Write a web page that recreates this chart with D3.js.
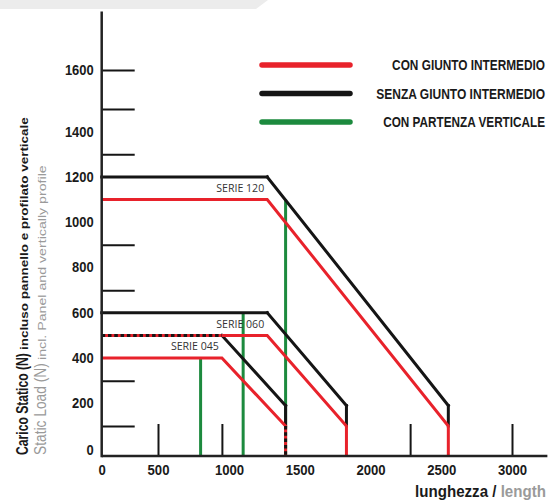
<!DOCTYPE html>
<html>
<head>
<meta charset="utf-8">
<script src="https://cdn.jsdelivr.net/npm/d3@7/dist/d3.min.js"></script>
<style>
  body { margin: 0; background: #fff; }
  svg { display: block; }
  text { font-family: "Liberation Sans", Arial, sans-serif; }
</style>
</head>
<body>
<svg></svg>
<script>
// tick labels
let xLabels = [0, 500, 1000, 1500, 2000, 2500, 3000]
let yLabels = [0, 200, 400, 600, 800, 1000, 1200, 1400, 1600]
// short marks on the axes
let xMarks = [500, 950, 2280, 3000]
let yMarks = [100, 300, 700, 900, 1300, 1500, 1600]

// series: [lunghezza, carico]
let serie045Black = [[0, 500], [950, 500], [1400, 190], [1400, 100], [1400, 0]]
let serie045Red = [[0, 400], [950, 400], [1400, 100], [1400, 0]]
let serie060Black = [[0, 600], [1270, 600], [1830, 190], [1830, 100]]
let serie060Red = [[0, 500], [1270, 500], [1830, 100], [1830, 0]]
let serie120Black = [[0, 1200], [1270, 1200], [2550, 190], [2550, 100]]
let serie120Red = [[0, 1100], [1270, 1100], [2550, 100], [2550, 0]]
// vertical starts: [lunghezza, top]
let verticals = [[800, 400], [1100, 600], [1400, 1100]]

let serieLabels = [['SERIE 120', 1270, 1200], ['SERIE 060', 1270, 600], ['SERIE 045', 950, 500]]
let legendLabels = ['CON GIUNTO INTERMEDIO', 'SENZA GIUNTO INTERMEDIO', 'CON PARTENZA VERTICALE']

let w = 555
let h = 502
let red = '#e8222b'
let black = '#151515'
let green = '#1c8a3e'

let svg = d3.select('svg').attr('width', w).attr('height', h)

// the printed scale is not evenly spaced, so follow it piece by piece
let xScale = d3.scaleLinear()
  .domain([0, 500, 1000, 3000])
  .range([101.7, 158, 229, 512])
let yScale = d3.scaleLinear()
  .domain([0, 100, 1500, 1600])
  .range([456, 426, 109, 70])

let redSeries = [serie045Red, serie060Red, serie120Red]
let blackSeries = [serie045Black, serie060Black, serie120Black]

let line = d3.line()
  .x((d) => xScale(d[0]))
  .y((d) => yScale(d[1]))

// is the segment a-b lying on one of the red lines?
let onRed = (a, b) => {
  let inside = (p, s, e) => {
    let cross = (e[0] - s[0]) * (p[1] - s[1]) - (e[1] - s[1]) * (p[0] - s[0])
    return Math.abs(cross) < 1e-6 &&
      p[0] >= Math.min(s[0], e[0]) && p[0] <= Math.max(s[0], e[0]) &&
      p[1] >= Math.min(s[1], e[1]) && p[1] <= Math.max(s[1], e[1])
  }
  return redSeries.some((r) => d3.pairs(r).some(([s, e]) => inside(a, s, e) && inside(b, s, e)))
}

// squeeze a text sideways so that it is `width` wide (the print uses a condensed face)
let squeeze = (node, pos, width, rotate) => {
  let k = width / node.getComputedTextLength()
  d3.select(node).attr('transform',
    'translate(' + pos[0] + ',' + pos[1] + ')' + (rotate ? ' rotate(-90)' : '') + ' scale(' + k + ',1)')
}

// grey strip at the top
svg.append('path')
  .attr('d', 'M0,0 L268,0 L256,9 L0,9 Z')
  .attr('fill', '#ececec')

// axes
let xAxis = d3.axisBottom(xScale).tickValues(xLabels).tickSize(0).tickPadding(9)
  .tickFormat(d3.format('d'))
let gx = svg.append('g')
  .attr('transform', 'translate(0,' + yScale(0) + ')')
  .call(xAxis)
gx.select('.domain').remove()
gx.selectAll('text')
  .attr('font-size', 14).attr('font-weight', 'bold').attr('fill', '#1a1a1a')
  .attr('textLength', (d) => String(d).length * 7.3)
  .attr('lengthAdjust', 'spacingAndGlyphs')

let yAxis = d3.axisLeft(yScale).tickValues(yLabels).tickSize(0).tickPadding(8)
  .tickFormat(d3.format('d'))
let gy = svg.append('g')
  .attr('transform', 'translate(' + xScale(0) + ',0)')
  .call(yAxis)
gy.select('.domain').remove()
gy.selectAll('text')
  .attr('font-size', 14).attr('font-weight', 'bold').attr('fill', '#1a1a1a')
  .attr('textLength', (d) => String(d).length * 7.2)
  .attr('lengthAdjust', 'spacingAndGlyphs')
gy.selectAll('.tick').filter((d) => d === 0).select('text').attr('dy', '-0.1em')

// short marks
let xMarkAxis = d3.axisBottom(xScale).tickValues(xMarks).tickSize(-32).tickFormat('')
let gxm = svg.append('g').attr('transform', 'translate(0,' + yScale(0) + ')').call(xMarkAxis)
gxm.select('.domain').remove()
gxm.selectAll('line').attr('stroke', black).attr('stroke-width', 2)

let yMarkAxis = d3.axisLeft(yScale).tickValues(yMarks).tickSize(-33).tickFormat('')
let gym = svg.append('g').attr('transform', 'translate(' + xScale(0) + ',0)').call(yMarkAxis)
gym.select('.domain').remove()
gym.selectAll('line').attr('stroke', black).attr('stroke-width', 2)

// green verticals
svg.selectAll('.vert')
  .data(verticals)
  .enter()
  .append('line')
  .attr('class', 'vert')
  .attr('x1', (d) => xScale(d[0]))
  .attr('x2', (d) => xScale(d[0]))
  .attr('y1', (d) => yScale(d[1]))
  .attr('y2', yScale(0))
  .attr('stroke', green)
  .attr('stroke-width', 3)

// black lines, solid where they stand alone
blackSeries.forEach((s) => {
  d3.pairs(s).filter(([a, b]) => !onRed(a, b)).forEach(([a, b]) => {
    svg.append('path')
      .attr('d', line([a, b]))
      .attr('fill', 'none')
      .attr('stroke', black)
      .attr('stroke-width', 3)
      .attr('stroke-linecap', 'square')
  })
})

// red lines
svg.selectAll('.red')
  .data(redSeries)
  .enter()
  .append('path')
  .attr('class', 'red')
  .attr('d', line)
  .attr('fill', 'none')
  .attr('stroke', red)
  .attr('stroke-width', 3)

// black over red: dashed
blackSeries.forEach((s) => {
  d3.pairs(s).filter(([a, b]) => onRed(a, b)).forEach(([a, b]) => {
    svg.append('path')
      .attr('d', line([a, b]))
      .attr('fill', 'none')
      .attr('stroke', black)
      .attr('stroke-width', 3)
      .attr('stroke-dasharray', '3.5,2.8')
  })
})

// axis lines
svg.append('line')
  .attr('x1', xScale(0)).attr('x2', xScale(3250))
  .attr('y1', yScale(0)).attr('y2', yScale(0))
  .attr('stroke', '#222').attr('stroke-width', 2.5)
svg.append('line')
  .attr('x1', xScale(0)).attr('x2', xScale(0))
  .attr('y1', yScale(0) + 1.2).attr('y2', yScale(1750))
  .attr('stroke', '#222').attr('stroke-width', 2.5)

// series names
svg.selectAll('.serie')
  .data(serieLabels)
  .enter()
  .append('text')
  .attr('class', 'serie')
  .attr('x', (d) => xScale(d[1]) - 3)
  .attr('y', (d) => yScale(d[2]) + 15)
  .attr('text-anchor', 'end')
  .attr('font-size', 11.5)
  .attr('fill', '#333')
  .attr('textLength', 48)
  .attr('lengthAdjust', 'spacingAndGlyphs')
  .style('font-family', '"Open Sans", "Noto Sans", sans-serif')
  .text((d) => d[0])

// legend
let legendColors = [red, black, green]
let legendWidths = [153, 169, 162]
let legend = svg.selectAll('.legend')
  .data(legendLabels)
  .enter()
  .append('g')
  .attr('class', 'legend')
  .attr('transform', (d, i) => 'translate(0,' + (65 + i * 28.5) + ')')
legend.append('line')
  .attr('x1', 262).attr('x2', 350)
  .attr('stroke', (d, i) => legendColors[i])
  .attr('stroke-width', 5.5)
  .attr('stroke-linecap', 'round')
legend.append('text')
  .attr('text-anchor', 'end')
  .attr('font-size', 14)
  .attr('font-weight', 'bold')
  .attr('fill', '#1a1a1a')
  .text((d) => d)
  .each(function (d, i) { squeeze(this, [545, 5], legendWidths[i]) })

// x title
let xt = svg.append('text')
  .attr('text-anchor', 'end')
  .attr('font-size', 17)
  .attr('font-weight', 'bold')
xt.append('tspan').attr('fill', '#1a1a1a').text('lunghezza / ')
xt.append('tspan').attr('fill', '#9a9a9a').text('length')
squeeze(xt.node(), [546, 497], 131)

// rotated title, two lines: [text, start y, length, baseline x, size, colour, weight]
let yTitleBits = [
  ['Carico Statico (N)', 455, 102, 28, 17, '#1a1a1a', 'bold'],
  ['incluso pannello e profilato verticale', 350, 233, 28, 11, '#1a1a1a', 'bold'],
  ['Static Load (N)', 455, 92, 46, 16.5, '#9a9a9a', 'normal'],
  ['incl. Panel and vertically profile', 360, 195, 46, 11, '#9a9a9a', 'normal']
]
svg.selectAll('.ytitle')
  .data(yTitleBits)
  .enter()
  .append('text')
  .attr('class', 'ytitle')
  .attr('font-size', (d) => d[4])
  .attr('font-weight', (d) => d[6])
  .attr('fill', (d) => d[5])
  .text((d) => d[0])
  .each(function (d) { squeeze(this, [d[3], d[1]], d[2], true) })
</script>
</body>
</html>
